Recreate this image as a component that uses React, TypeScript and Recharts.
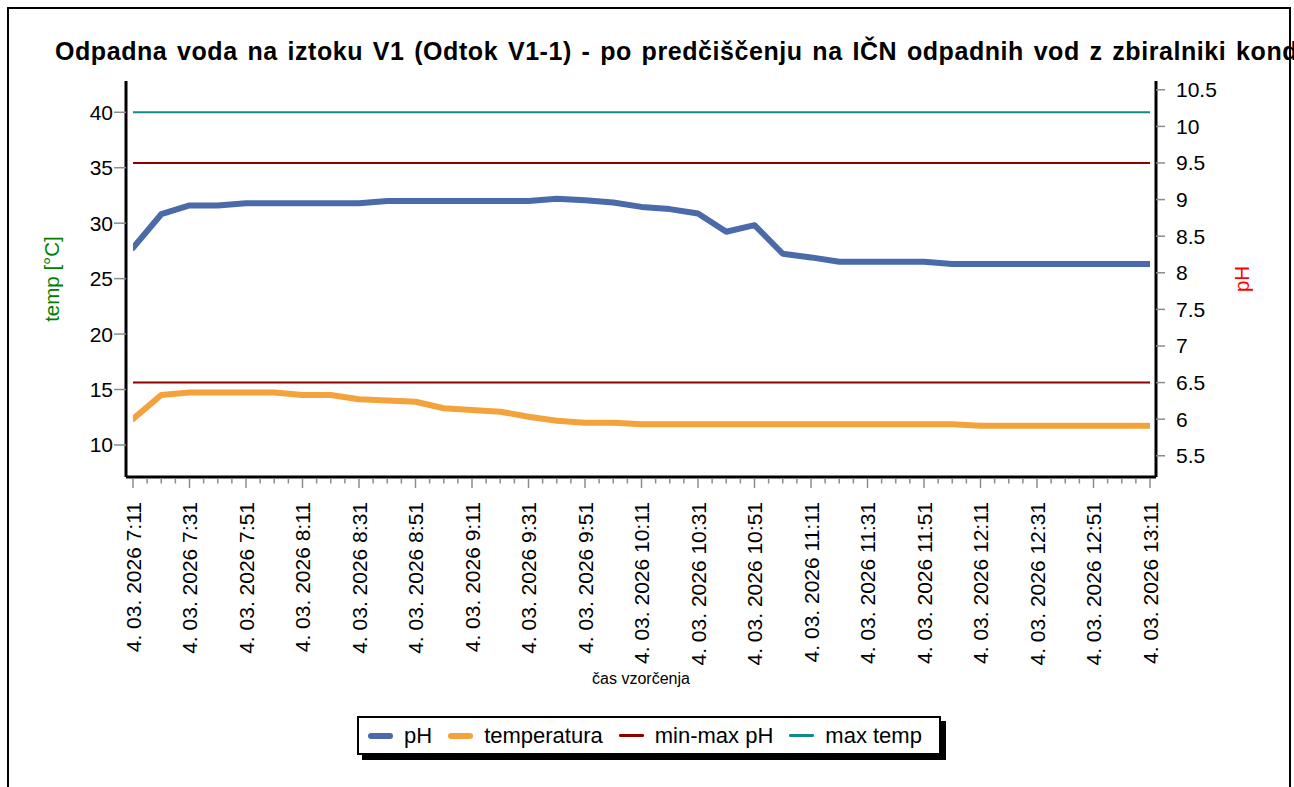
import React from 'react';
import { LineChart, Line, XAxis, YAxis } from 'recharts';

const FONT = '"Liberation Sans", Arial, Helvetica, sans-serif';

// sampling times (every 10 minutes)
const sampleTimes = [
  '7:11', '7:21', '7:31', '7:41', '7:51', '8:01', '8:11', '8:21', '8:31', '8:41',
  '8:51', '9:01', '9:11', '9:21', '9:31', '9:41', '9:51', '10:01', '10:11', '10:21',
  '10:31', '10:41', '10:51', '11:01', '11:11', '11:21', '11:31', '11:41', '11:51', '12:01',
  '12:11', '12:21', '12:31', '12:41', '12:51', '13:01', '13:11',
];

const phValues = [
  8.34, 8.8, 8.92, 8.92, 8.95, 8.95, 8.95, 8.95, 8.95, 8.98,
  8.98, 8.98, 8.98, 8.98, 8.98, 9.01, 8.99, 8.96, 8.9, 8.87,
  8.81, 8.56, 8.65, 8.26, 8.21, 8.15, 8.15, 8.15, 8.15, 8.12,
  8.12, 8.12, 8.12, 8.12, 8.12, 8.12, 8.12,
];

const tempValues = [
  12.34, 14.51, 14.72, 14.72, 14.72, 14.72, 14.51, 14.51, 14.12, 14.0,
  13.9, 13.31, 13.15, 13.0, 12.55, 12.19, 12.01, 12.01, 11.87, 11.87,
  11.87, 11.87, 11.87, 11.87, 11.87, 11.87, 11.87, 11.87, 11.87, 11.87,
  11.73, 11.73, 11.73, 11.73, 11.73, 11.73, 11.73,
];

const phLimitMin = 6.5;
const phLimitMax = 9.5;
const tempLimitMax = 40;

const tempTicks = [10, 15, 20, 25, 30, 35, 40];
const phTicks = [5.5, 6, 6.5, 7, 7.5, 8, 8.5, 9, 9.5, 10, 10.5];
const tempDomain = [7.11, 42.82];
const phDomain = [5.21, 10.62];

const datePrefix = '4. 03. 2026';
const xLabelTimes = [
  '7:11', '7:31', '7:51', '8:11', '8:31', '8:51', '9:11', '9:31', '9:51', '10:11',
  '10:31', '10:51', '11:11', '11:31', '11:51', '12:11', '12:31', '12:51', '13:11',
];

const TITLE =
  'Odpadna voda na iztoku V1 (Odtok V1-1) - po predčiščenju na IČN odpadnih vod z zbiralniki kondenzata';

const legendItems = [
  { name: 'pH', color: '#4a6aaa', width: 6 },
  { name: 'temperatura', color: '#f4a23c', width: 6 },
  { name: 'min-max pH', color: '#8b0000', width: 2.5 },
  { name: 'max temp', color: '#138a8a', width: 2.5 },
];

const toMin = (s: string) => {
  const [h, m] = s.split(':').map(Number);
  return h * 60 + m - (7 * 60 + 11);
};

const data = sampleTimes.map((t, i) => ({
  t: toMin(t),
  ph: phValues[i],
  temp: tempValues[i],
  phMin: phLimitMin,
  phMax: phLimitMax,
  tempMax: tempLimitMax,
}));

const majorTicks = xLabelTimes.map(toMin);
const lastMin = majorTicks[majorTicks.length - 1];
const xTicks: number[] = [];
for (let v = 0; v <= lastMin; v += 5) xTicks.push(v);

const XTick = (props: any) => {
  const { x, y, payload } = props;
  const v = payload.value;
  const idx = majorTicks.indexOf(v);
  const major = idx >= 0;
  const ly = y + 25;
  return (
    <g>
      <line x1={x} x2={x} y1={y + 1.5} y2={y + (major ? 11 : 6.5)} stroke="#8c8c8c" strokeWidth={1.5} />
      {major && (
        <text
          x={x}
          y={ly}
          transform={`rotate(-90 ${x} ${ly})`}
          textAnchor="end"
          dy="0.36em"
          fontSize={21}
          fontFamily={FONT}
          fill="#000"
        >
          {`${datePrefix} ${xLabelTimes[idx]}`}
        </text>
      )}
    </g>
  );
};

const LeftLabel = (props: any) => {
  const vb = props.viewBox;
  const cx = vb.x + 22;
  const cy = vb.y + vb.height / 2;
  return (
    <text x={cx} y={cy} transform={`rotate(-90 ${cx} ${cy})`} textAnchor="middle" dy="0.36em" fontSize={20.5} fontFamily={FONT} fill="#008000">
      temp [°C]
    </text>
  );
};

const RightLabel = (props: any) => {
  const vb = props.viewBox;
  const cx = vb.x + 86;
  const cy = vb.y + vb.height / 2;
  return (
    <text x={cx} y={cy} transform={`rotate(-90 ${cx} ${cy})`} textAnchor="middle" dy="0.36em" fontSize={20.5} fontFamily={FONT} fill="#ff0000">
      pH
    </text>
  );
};

const BottomLabel = (props: any) => {
  const vb = props.viewBox;
  return (
    <text x={vb.x + vb.width / 2} y={vb.y + 201} textAnchor="middle" dy="0.36em" fontSize={16} fontFamily={FONT} fill="#000">
      čas vzorčenja
    </text>
  );
};

export default function App() {
  return (
    <div
      style={{
        position: 'absolute',
        left: 0,
        top: 0,
        width: 1294,
        height: 787,
        overflow: 'hidden',
        background: '#fff',
        fontFamily: FONT,
      }}
    >
      <div
        style={{
          position: 'absolute',
          left: 7,
          top: 7,
          width: 1284,
          height: 900,
          border: '2px solid #000',
          boxSizing: 'border-box',
        }}
      />
      <div style={{ position: 'absolute', left: 0, top: 0 }}>
        <LineChart width={1294} height={787} data={data} margin={{ top: 81, right: 28, bottom: 110, left: 30 }}>
          <XAxis
            dataKey="t"
            type="number"
            domain={[0, lastMin]}
            ticks={xTicks}
            interval={0}
            padding={{ left: 7, right: 6 }}
            height={200}
            tickSize={0}
            tickMargin={0}
            tickLine={false}
            tick={<XTick />}
            axisLine={{ stroke: '#000', strokeWidth: 3 }}
            label={<BottomLabel />}
            allowDataOverflow
          />
          <YAxis
            yAxisId="temp"
            orientation="left"
            type="number"
            width={96}
            domain={tempDomain}
            ticks={tempTicks}
            allowDataOverflow
            interval={0}
            tickSize={12}
            tickMargin={1}
            tickLine={{ stroke: '#8c8c8c', strokeWidth: 1.5 }}
            axisLine={{ stroke: '#000', strokeWidth: 3 }}
            tick={{ fontSize: 21, fill: '#000', fontFamily: FONT }}
            label={<LeftLabel />}
          />
          <YAxis
            yAxisId="ph"
            orientation="right"
            type="number"
            width={110}
            domain={phDomain}
            ticks={phTicks}
            allowDataOverflow
            interval={0}
            tickSize={9}
            tickMargin={11}
            tickLine={{ stroke: '#8c8c8c', strokeWidth: 1.5 }}
            axisLine={{ stroke: '#000', strokeWidth: 3 }}
            tick={{ fontSize: 21, fill: '#000', fontFamily: FONT }}
            label={<RightLabel />}
          />
          <Line yAxisId="temp" dataKey="tempMax" type="linear" stroke="#138a8a" strokeWidth={2} dot={false} activeDot={false} isAnimationActive={false} />
          <Line yAxisId="ph" dataKey="phMax" type="linear" stroke="#8b0000" strokeWidth={2} dot={false} activeDot={false} isAnimationActive={false} />
          <Line yAxisId="ph" dataKey="phMin" type="linear" stroke="#8b0000" strokeWidth={2} dot={false} activeDot={false} isAnimationActive={false} />
          <Line yAxisId="temp" dataKey="temp" type="linear" stroke="#f4a23c" strokeWidth={6} strokeLinejoin="round" strokeLinecap="round" dot={false} activeDot={false} isAnimationActive={false} />
          <Line yAxisId="ph" dataKey="ph" type="linear" stroke="#4a6aaa" strokeWidth={6} strokeLinejoin="round" strokeLinecap="round" dot={false} activeDot={false} isAnimationActive={false} />
        </LineChart>
      </div>
      <div
        style={{
          position: 'absolute',
          left: 55,
          top: 39,
          fontSize: 25,
          lineHeight: '25px',
          fontWeight: 'bold',
          letterSpacing: '0.57px',
          wordSpacing: '2.2px',
          whiteSpace: 'nowrap',
          color: '#000',
        }}
      >
        {TITLE}
      </div>
      <div
        style={{
          position: 'absolute',
          left: 357,
          top: 716,
          width: 584,
          height: 39,
          boxSizing: 'border-box',
          border: '2px solid #000',
          boxShadow: '5px 5px 0 #000',
          background: '#fff',
          display: 'flex',
          alignItems: 'center',
          paddingLeft: 9,
          fontSize: 22,
          color: '#000',
        }}
      >
        {legendItems.map((it, i) => (
          <div key={it.name} style={{ display: 'flex', alignItems: 'center', marginLeft: i === 0 ? 0 : 16 }}>
            <div
              style={{
                width: 25,
                height: it.width,
                background: it.color,
                borderRadius: it.width / 2,
                marginRight: 11,
              }}
            />
            <span>{it.name}</span>
          </div>
        ))}
      </div>
    </div>
  );
}
